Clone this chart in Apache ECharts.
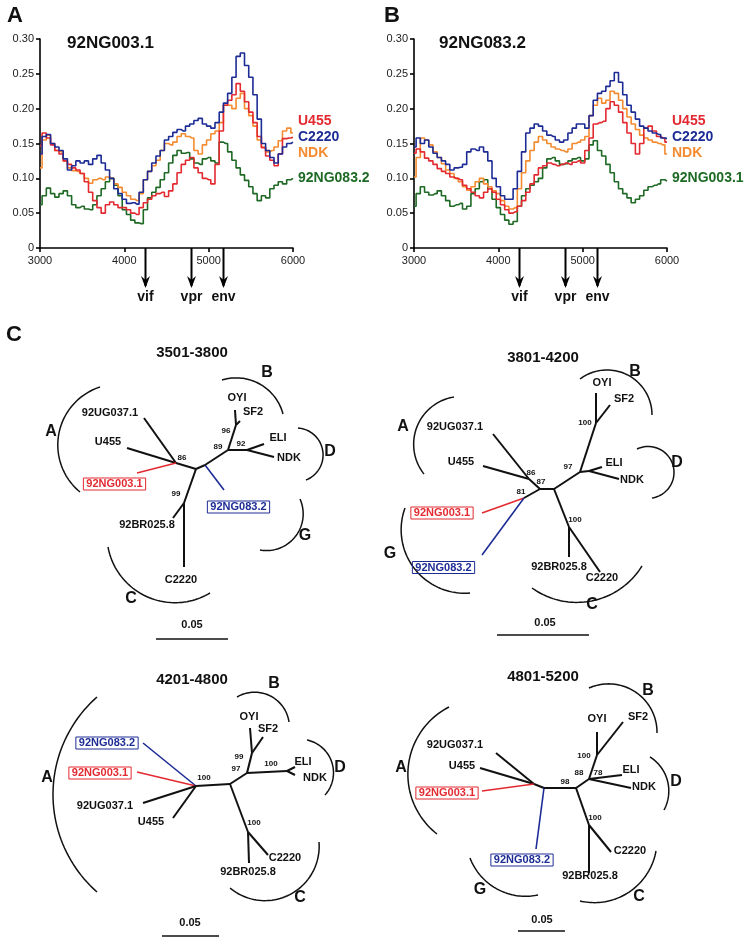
<!DOCTYPE html>
<html><head><meta charset="utf-8">
<script src="https://cdn.jsdelivr.net/npm/echarts/dist/echarts.min.js"></script>
<style>html,body{margin:0;padding:0;background:#fff}#c{width:744px;height:942px}</style>
</head><body><div id="c"></div>
<script>
// ---------- Panel A / B data (distance vs. genome position) ----------
const xPos = [3000,3050,3100,3150,3200,3250,3300,3350,3400,3450,3500,3550,3600,3650,3700,3750,3800,3850,3900,3950,4000,4050,4100,4150,4200,4250,4300,4350,4400,4450,4500,4550,4600,4650,4700,4750,4800,4850,4900,4950,5000,5050,5100,5150,5200,5250,5300,5350,5400,5450,5500,5550,5600,5650,5700,5750,5800,5850,5900,5950,6000];
const xTicks = [3000,4000,5000,6000];
const yTicks = [0,0.05,0.10,0.15,0.20,0.25,0.30];

const A_U455 = [.147,.165,.158,.148,.140,.135,.125,.120,.115,.112,.107,.095,.080,.068,.058,.050,.062,.066,.062,.058,.058,.055,.050,.048,.058,.065,.070,.075,.078,.080,.074,.082,.092,.108,.120,.126,.130,.115,.108,.100,.098,.092,.120,.168,.205,.212,.220,.236,.225,.210,.195,.180,.160,.144,.132,.126,.118,.135,.157,.158,.159];
const A_C2220 = [.135,.160,.163,.150,.145,.140,.128,.112,.118,.125,.122,.125,.120,.128,.133,.122,.112,.100,.085,.078,.070,.064,.065,.063,.080,.098,.110,.122,.132,.140,.155,.160,.166,.170,.168,.175,.178,.183,.186,.178,.175,.172,.180,.195,.208,.222,.245,.275,.280,.262,.245,.220,.185,.150,.140,.130,.122,.135,.145,.150,.152];
const A_NDK = [.115,.155,.162,.150,.140,.138,.125,.115,.111,.110,.107,.100,.093,.098,.100,.098,.102,.100,.092,.087,.080,.075,.070,.068,.078,.098,.110,.118,.126,.140,.150,.148,.152,.160,.164,.160,.158,.140,.135,.148,.155,.164,.168,.180,.205,.205,.200,.215,.222,.200,.190,.175,.155,.145,.138,.140,.145,.154,.168,.172,.165];
const A_083 = [.062,.075,.086,.078,.073,.078,.082,.075,.062,.058,.060,.056,.055,.062,.075,.085,.095,.100,.090,.075,.055,.048,.040,.036,.035,.055,.072,.080,.087,.098,.108,.122,.133,.140,.136,.137,.128,.122,.120,.128,.130,.125,.122,.152,.150,.138,.126,.115,.105,.097,.088,.078,.068,.075,.072,.085,.090,.095,.092,.098,.100];

const B_U455 = [.136,.142,.138,.129,.125,.120,.114,.110,.107,.102,.100,.098,.090,.085,.080,.075,.072,.080,.085,.080,.070,.062,.055,.050,.052,.060,.068,.080,.092,.105,.115,.118,.122,.120,.118,.120,.122,.120,.123,.125,.122,.140,.158,.178,.180,.182,.200,.210,.205,.195,.180,.165,.150,.135,.150,.172,.175,.168,.160,.158,.152];
const B_C2220 = [.145,.158,.150,.155,.145,.136,.130,.125,.120,.112,.115,.116,.120,.138,.142,.140,.145,.138,.125,.100,.088,.075,.070,.070,.085,.110,.138,.165,.172,.178,.175,.168,.162,.160,.155,.152,.155,.165,.172,.178,.178,.172,.190,.212,.222,.225,.232,.240,.252,.238,.220,.205,.195,.185,.175,.172,.168,.165,.163,.158,.157];
const B_NDK = [.102,.130,.158,.155,.148,.138,.130,.121,.112,.107,.100,.095,.088,.083,.088,.095,.100,.092,.088,.082,.078,.068,.060,.056,.058,.085,.108,.125,.140,.152,.160,.155,.150,.145,.142,.140,.138,.142,.150,.152,.155,.160,.190,.205,.215,.208,.212,.225,.222,.212,.200,.188,.178,.170,.162,.158,.155,.152,.150,.148,.135];
const B_003 = [.060,.078,.088,.080,.076,.078,.082,.075,.068,.060,.062,.064,.056,.060,.078,.085,.095,.098,.085,.070,.058,.048,.040,.034,.038,.060,.075,.085,.090,.095,.100,.115,.128,.130,.125,.120,.121,.125,.128,.130,.125,.128,.148,.154,.140,.132,.120,.108,.095,.085,.078,.072,.065,.070,.075,.083,.088,.090,.092,.098,.096];

const geneNames = ['vif','vpr','env'];
const genePos = [4250,4790,5165];

// ---------- Panel C: unrooted trees (node layout in tree units, edges, labels, clade arcs, scale bar) ----------
const t1Nodes = [['root',0,0],['n86',-20,-6],['UG',-52,-51],['U455',-69,-21],['NG003',-59,4],['nb',9,-4],['NG083',28,21],['n89',32,-19],['n96',40,-44],['OYI',39,-59],['SF2',44,-48],['n92',51,-19],['ELI',68,-25],['NDK',78,-12],['n99',-12,34],['BR',-23,49],['C2220',-12,98]];
const t1Edges = [['root','n86',0],['n86','UG',0],['n86','U455',0],['n86','NG003',1],['root','nb',0],['nb','NG083',2],['nb','n89',0],['n89','n96',0],['n96','OYI',0],['n96','SF2',0],['n89','n92',0],['n92','ELI',0],['n92','NDK',0],['root','n99',0],['n99','BR',0],['n99','C2220',0]];
const t1Labels = [['3501-3800',-4,-116,5],['92UG037.1',-86,-56,0],['U455',-88,-27,0],['92NG003.1',-81.5,15,1],['92NG083.2',42.5,38,2],['OYI',41,-71,0],['SF2',57,-57,0],['ELI',82,-31,0],['NDK',93,-11,0],['92BR025.8',-49,56,0],['C2220',-15,111,0],['86',-14,-11,3],['96',30,-38,3],['89',22,-22,3],['92',45,-25,3],['99',-20,25,3],['A',-145,-37,4],['B',71,-96,4],['D',134,-17,4],['G',109,67,4],['C',-65,130,4],['0.05',-4,156,6]];
const t1Arcs = [[-96,-82,-138,-29,-116,23],[26,-89,67,-83,87,-55],[102,-41,127,-16,110,11],[104,30,99,68,64,81],[-88,78,-46,129,14,124]];
const t1Bar = [-40,170,32,170];

const t2Nodes = [['n87',0,0],['nR',14,0],['n86',-11,-10],['UG',-47,-55],['U455',-57,-23],['n81',-16,9],['NG003',-58,24],['NG083',-58,66],['n97',40,-17],['n100B',56,-66],['OYI',56,-96],['SF2',70,-84],['nD',49,-18],['ELI',62,-22],['NDK',79,-10],['n100C',29,38],['BR',29,68],['C2220',60,83]];
const t2Edges = [['n87','nR',0],['n87','n86',0],['n86','UG',0],['n86','U455',0],['n87','n81',0],['n81','NG003',1],['n81','NG083',2],['nR','n97',0],['n97','n100B',0],['n100B','OYI',0],['n100B','SF2',0],['n97','nD',0],['nD','ELI',0],['nD','NDK',0],['nR','n100C',0],['n100C','BR',0],['n100C','C2220',0]];
const t2Labels = [['3801-4200',3,-131,5],['92UG037.1',-85,-62,0],['U455',-79,-27,0],['92NG003.1',-98,24,1],['92NG083.2',-96.5,78.5,2],['OYI',62,-106,0],['SF2',84,-90,0],['ELI',74,-26,0],['NDK',92,-9,0],['92BR025.8',19,78,0],['C2220',62,89,0],['100',45,-66,3],['86',-9,-16,3],['87',1,-7,3],['97',28,-22,3],['81',-19,3,3],['100',35,31,3],['A',-137,-62,4],['B',95,-117,4],['D',137,-26,4],['G',-150,65,4],['C',52,116,4],['0.05',5,134,6]];
const t2Arcs = [[-86,-92,-125,-56,-116,-15],[40,-110,65,-119,112,-74],[97,-40,134,-16,112,9],[-135,19,-137,56,-70,104],[-8,99,65,108,102,77]];
const t2Bar = [-43,146,49,146];

const t3Nodes = [['n100',0,0],['nR',34,-2],['NG083',-53,-43],['NG003',-59,-14],['UG',-53,17],['U455',-23,32],['n97',51,-13],['n99',56,-33],['OYI',54,-58],['SF2',67,-49],['nD',91,-15],['ELI',99,-19],['NDK',99,-11],['n100C',52,46],['C2220',72,69],['BR',53,77]];
const t3Edges = [['n100','nR',0],['n100','NG083',2],['n100','NG003',1],['n100','UG',0],['n100','U455',0],['nR','n97',0],['n97','n99',0],['n99','OYI',0],['n99','SF2',0],['n97','nD',0],['nD','ELI',0],['nD','NDK',0],['nR','n100C',0],['n100C','C2220',0],['n100C','BR',0]];
const t3Labels = [['4201-4800',-4,-106,5],['92NG083.2',-89,-43,2],['92NG003.1',-96,-13,1],['92UG037.1',-91,20,0],['U455',-45,36,0],['OYI',53,-69,0],['SF2',72,-57,0],['ELI',107,-24,0],['NDK',119,-8,0],['C2220',89,72,0],['92BR025.8',52,86,0],['100',8,-8,3],['99',43,-29,3],['97',40,-17,3],['100',75,-22,3],['100',58,37,3],['A',-149,-8,4],['B',78,-102,4],['D',144,-18,4],['C',104,112,4],['0.05',-6,137,6]];
const t3Arcs = [[-99,-89,-143,7,-99,106],[41,-89,66,-93,93,-64],[111,-46,137,-19,129,9],[34,102,108,98,123,56]];
const t3Bar = [-34,150,23,150];

const t4Nodes = [['nL',0,0],['nA',-10,-4],['UG',-48,-35],['U455',-64,-20],['NG003',-62,3],['NG083',-8,61],['nR',32,0],['n88',45,-9],['n100B',53,-33],['OYI',53,-56],['SF2',79,-66],['ELI',78,-13],['NDK',87,0],['n100C',45,37],['C2220',67,64],['BR',45,85]];
const t4Edges = [['nL','nA',0],['nA','UG',0],['nA','U455',0],['nA','NG003',1],['nL','NG083',2],['nL','nR',0],['nR','n88',0],['n88','n100B',0],['n100B','OYI',0],['n100B','SF2',0],['n88','ELI',0],['n88','NDK',0],['nR','n100C',0],['n100C','C2220',0],['n100C','BR',0]];
const t4Labels = [['4801-5200',-1,-111,5],['92UG037.1',-89,-43,0],['U455',-82,-22,0],['92NG003.1',-97,5,1],['92NG083.2',-22,72,2],['OYI',53,-69,0],['SF2',94,-71,0],['ELI',87,-18,0],['NDK',100,-1,0],['C2220',86,63,0],['92BR025.8',46,88,0],['100',40,-32,3],['88',35,-15,3],['78',54,-15,3],['98',21,-6,3],['100',51,30,3],['A',-143,-20,4],['B',104,-97,4],['D',132,-6,4],['G',-64,102,4],['C',95,109,4],['0.05',-2,132,6]];
const t4Arcs = [[-95,-81,-136,-18,-107,46],[45,-100,75,-103,113,-55],[106,-31,124,-5,120,22],[-74,70,-45,102,-6,107],[36,113,88,102,112,63]];
const t4Bar = [-26,143,21,143];

// ---------- layout & style ----------
const FONT = '"Liberation Sans", Arial, Helvetica, sans-serif';
const RED = '#e32a31', BLUE = '#1d2c95', ORANGE = '#f58b30', GREEN = '#1e6a24', INK = '#111';
const lineGrids = [{left:40, top:39, width:253, height:209}, {left:414, top:39, width:253, height:209}];
const treeLayout = [[20,340,340,310,196,469],[380,340,344,300,540,489],[20,655,340,285,196,786],[380,655,344,285,544,788]];
const trees = [
  {nodes:t1Nodes, edges:t1Edges, labels:t1Labels, arcs:t1Arcs, bar:t1Bar},
  {nodes:t2Nodes, edges:t2Edges, labels:t2Labels, arcs:t2Arcs, bar:t2Bar},
  {nodes:t3Nodes, edges:t3Edges, labels:t3Labels, arcs:t3Arcs, bar:t3Bar},
  {nodes:t4Nodes, edges:t4Edges, labels:t4Labels, arcs:t4Arcs, bar:t4Bar}
];
const edgeColor = [INK, RED, BLUE];

function labelStyle(kind){
  const base = {show:true, position:'inside', fontFamily:FONT, color:INK, opacity:1, fontWeight:'bold', fontSize:11};
  if (kind === 1) return Object.assign(base, {color:RED, borderColor:RED, borderWidth:1, padding:[1,3,0,3]});
  if (kind === 2) return Object.assign(base, {color:BLUE, borderColor:BLUE, borderWidth:1, padding:[1,3,0,3]});
  if (kind === 3) return Object.assign(base, {fontSize:8});
  if (kind === 4) return Object.assign(base, {fontSize:16});
  if (kind === 5) return Object.assign(base, {fontSize:15});
  return base;
}

function arcPoints(p){
  const [x1,y1,x2,y2,x3,y3] = p;
  const d = 2*(x1*(y2-y3)+x2*(y3-y1)+x3*(y1-y2));
  const s1 = x1*x1+y1*y1, s2 = x2*x2+y2*y2, s3 = x3*x3+y3*y3;
  const ux = (s1*(y2-y3)+s2*(y3-y1)+s3*(y1-y2))/d;
  const uy = (s1*(x3-x2)+s2*(x1-x3)+s3*(x2-x1))/d;
  const r = Math.hypot(x1-ux, y1-uy);
  const a1 = Math.atan2(y1-uy, x1-ux), a2 = Math.atan2(y2-uy, x2-ux), a3 = Math.atan2(y3-uy, x3-ux);
  const T = 2*Math.PI;
  const norm = a => (((a-a1)%T)+T)%T;
  const n2 = norm(a2), n3 = norm(a3);
  const sweep = n2 < n3 ? n3 : n3 - T;
  const pts = [];
  for (let i=0;i<=48;i++){ const a = a1 + sweep*i/48; pts.push([ux + r*Math.cos(a), uy + r*Math.sin(a)]); }
  return pts;
}

const grids = lineGrids.concat(treeLayout.map(l => ({left:l[0], top:l[1], width:l[2], height:l[3]})));
const xAxes = [], yAxes = [], series = [];

[0,1].forEach(gi => {
  xAxes.push({gridIndex:gi, type:'value', min:xTicks[0], max:xTicks[xTicks.length-1], interval:xTicks[1]-xTicks[0],
    axisLine:{lineStyle:{color:'#000', width:1.6}}, axisTick:{length:4, lineStyle:{color:'#000', width:1.6}},
    axisLabel:{color:'#222', fontSize:11, fontFamily:FONT, margin:7, formatter: v => String(v)}, splitLine:{show:false}});
  yAxes.push({gridIndex:gi, type:'value', min:yTicks[0], max:yTicks[yTicks.length-1], interval:yTicks[1]-yTicks[0],
    axisLine:{show:true, lineStyle:{color:'#000', width:1.6}}, axisTick:{show:true, length:4, lineStyle:{color:'#000', width:1.6}},
    axisLabel:{color:'#222', fontSize:11, fontFamily:FONT, margin:6, formatter: v => v === 0 ? '0' : v.toFixed(2)}, splitLine:{show:false}});
});

const panelSeries = [
  [[A_083, GREEN], [A_NDK, ORANGE], [A_U455, RED], [A_C2220, BLUE]],
  [[B_003, GREEN], [B_NDK, ORANGE], [B_U455, RED], [B_C2220, BLUE]]
];
panelSeries.forEach((list, gi) => {
  list.forEach(([arr, col]) => {
    series.push({type:'line', xAxisIndex:gi, yAxisIndex:gi, data: xPos.map((x,i) => [x, arr[i]]),
      symbol:'none', step:'middle', silent:true, lineStyle:{color:col, width:1.6}});
  });
});

trees.forEach((t, k) => {
  const gi = k + 2, L = treeLayout[k];
  xAxes.push({gridIndex:gi, type:'value', show:false, min:L[0]-L[4], max:L[0]+L[2]-L[4]});
  yAxes.push({gridIndex:gi, type:'value', show:false, inverse:true, min:L[1]-L[5], max:L[1]+L[3]-L[5]});
  const pos = {};
  t.nodes.forEach(n => pos[n[0]] = [n[1], n[2]]);
  series.push({type:'lines', coordinateSystem:'cartesian2d', xAxisIndex:gi, yAxisIndex:gi, silent:true, animation:false,
    data: t.edges.map(e => ({coords:[pos[e[0]], pos[e[1]]], lineStyle:{color:edgeColor[e[2]], width: e[2] ? 1.6 : 2, opacity:1}}))});
  series.push({type:'lines', coordinateSystem:'cartesian2d', polyline:true, xAxisIndex:gi, yAxisIndex:gi, silent:true, animation:false,
    lineStyle:{color:INK, width:1.5, opacity:1},
    data: t.arcs.map(a => ({coords: arcPoints(a)})).concat([{coords:[[t.bar[0],t.bar[1]],[t.bar[2],t.bar[3]]], lineStyle:{width:1.5}}])});
  series.push({type:'scatter', xAxisIndex:gi, yAxisIndex:gi, silent:true, symbolSize:0, itemStyle:{color:INK, opacity:1},
    data: t.labels.map(l => ({name:l[0], value:[l[1], l[2]], label: Object.assign(labelStyle(l[3]), {formatter: l[0]})}))});
});

const chart = echarts.init(document.getElementById('c'));
chart.setOption({animation:false, grid:grids, xAxis:xAxes, yAxis:yAxes, series:series});

// ---------- texts and gene arrows ----------
const txt = (x, y, s, size, color, align) => ({type:'text', x:x, y:y, silent:true,
  style:{text:s, fill:color || INK, font:'bold ' + size + 'px ' + FONT, textAlign: align || 'left', textVerticalAlign:'middle'}});
const g = [
  txt(7, 16, 'A', 22), txt(384, 16, 'B', 22), txt(6, 335, 'C', 22),
  txt(67, 43, '92NG003.1', 17), txt(439, 43, '92NG083.2', 17)
];
const rightLabels = [[['U455', RED], ['C2220', BLUE], ['NDK', ORANGE], ['92NG083.2', GREEN]],
                     [['U455', RED], ['C2220', BLUE], ['NDK', ORANGE], ['92NG003.1', GREEN]]];
const rightY = [121, 137, 153, 178];
[0,1].forEach(gi => {
  const xr = chart.convertToPixel({xAxisIndex:gi}, xTicks[xTicks.length-1]) + 5;
  rightLabels[gi].forEach((r, i) => g.push(txt(xr, rightY[i], r[0], 14, r[1])));
  const y0 = chart.convertToPixel({yAxisIndex:gi}, 0);
  genePos.forEach((p, i) => {
    const x = Math.round(chart.convertToPixel({xAxisIndex:gi}, p)) + 0.5;
    g.push({type:'line', silent:true, shape:{x1:x, y1:y0, x2:x, y2:y0+38}, style:{stroke:'#000', lineWidth:2}});
    g.push({type:'polygon', silent:true, shape:{points:[[x-4.5,y0+28],[x,y0+40],[x+4.5,y0+28],[x,y0+32]]}, style:{fill:'#000'}});
    g.push(txt(x, y0+49, geneNames[i], 14, INK, 'center'));
  });
});
chart.setOption({graphic: g});
</script>
</body></html>
